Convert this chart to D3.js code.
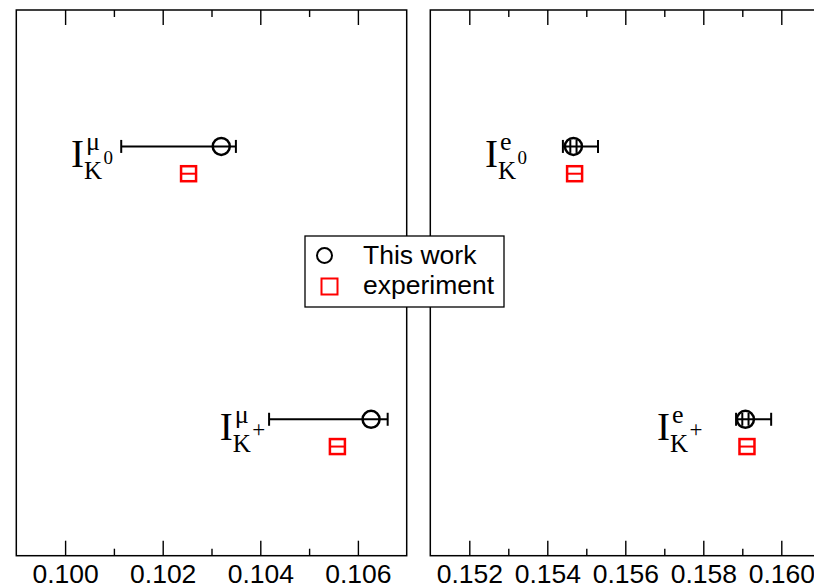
<html>
<head>
<meta charset="utf-8">
<script src="https://cdn.jsdelivr.net/npm/d3@7"></script>
<style>
  body { margin: 0; background: #fff; }
  svg { display: block; }
  .tick text { font-family: "Liberation Sans", Arial, sans-serif; font-size: 26.5px; fill: #000; }
  .serif { font-family: "Liberation Serif", "Times New Roman", serif; fill: #000; }
</style>
</head>
<body>
<svg id="chart" width="814" height="588"></svg>
<script>
// slots on the (hidden) vertical axis
const mesonSup = ["0", "+"];
const mesonSupSize = [19, 23];
const yWork = [3, 1];
const yExp = [2.8, 0.8];

// muon channel (left panel)
const muWork   = [0.10320, 0.10627];
const muLo     = [0.10115, 0.10418];
const muHi     = [0.10350, 0.10661];
const muExp    = [0.10253, 0.10558];
const muExpErr = [0.00014, 0.00014];
const muLabelX = [0.10012, 0.10317];
const muTicks  = [0.100, 0.102, 0.104, 0.106];
const muMinor  = [0.101, 0.103, 0.105];

// electron channel (right panel)
const eWork    = [0.15467, 0.15908];
const eLo      = [0.15440, 0.15884];
const eHi      = [0.15530, 0.15974];
const eStatLo  = [0.15459, 0.15900];
const eStatHi  = [0.15475, 0.15916];
const eExp     = [0.15470, 0.15912];
const eExpErr  = [0.00018, 0.00018];
const eLabelX  = [0.15240, 0.15681];
const eTicks   = [0.152, 0.154, 0.156, 0.158, 0.160];
const eMinor   = [0.153, 0.155, 0.157, 0.159];

const legendNames = ["This work", "experiment"];

const svg = d3.select("#chart");
const frameTop = 10, frameBottom = 555.7;
const y = d3.scaleLinear().domain([0, 4]).range([frameBottom, frameTop]);

function panel(cfg) {
  const x = d3.scaleLinear().domain(cfg.domain).range(cfg.range);
  const g = svg.append("g");

  // bottom axis: major with labels, minor without
  g.append("g").attr("transform", "translate(0," + frameBottom + ")")
    .call(d3.axisBottom(x).tickValues(cfg.ticks).tickSize(-15).tickPadding(8).tickFormat(d3.format(".3f")))
    .call(a => a.select(".domain").remove());
  g.append("g").attr("transform", "translate(0," + frameBottom + ")")
    .call(d3.axisBottom(x).tickValues(cfg.minor).tickSize(-7).tickFormat(""))
    .call(a => a.select(".domain").remove());
  // top mirrored ticks
  g.append("g").attr("transform", "translate(0," + frameTop + ")")
    .call(d3.axisTop(x).tickValues(cfg.ticks).tickSize(-15).tickFormat(""))
    .call(a => a.select(".domain").remove());
  g.append("g").attr("transform", "translate(0," + frameTop + ")")
    .call(d3.axisTop(x).tickValues(cfg.minor).tickSize(-7).tickFormat(""))
    .call(a => a.select(".domain").remove());
  g.selectAll(".tick line").attr("stroke", "#000").attr("stroke-width", 1.4);

  g.append("rect")
    .attr("x", cfg.range[0]).attr("y", frameTop)
    .attr("width", cfg.range[1] - cfg.range[0]).attr("height", frameBottom - frameTop)
    .attr("fill", "none").attr("stroke", "#000").attr("stroke-width", 1.5);

  const idx = d3.range(cfg.work.length);

  // experiment squares with their error bars
  idx.forEach(i => {
    const cx = x(cfg.exp[i]), cy = y(yExp[i]);
    g.append("line")
      .attr("x1", x(cfg.exp[i] - cfg.expErr[i])).attr("x2", x(cfg.exp[i] + cfg.expErr[i]))
      .attr("y1", cy).attr("y2", cy)
      .attr("stroke", "#ff0000").attr("stroke-width", 2);
    g.append("rect")
      .attr("x", cx - 7.5).attr("y", cy - 7.5).attr("width", 15).attr("height", 15)
      .attr("fill", "none").attr("stroke", "#ff0000").attr("stroke-width", 2.5);
  });

  // this work: error bars and circles
  idx.forEach(i => {
    const cy = y(yWork[i]);
    g.append("line")
      .attr("x1", x(cfg.lo[i])).attr("x2", x(cfg.hi[i]))
      .attr("y1", cy).attr("y2", cy)
      .attr("stroke", "#000").attr("stroke-width", 2);
    [cfg.lo[i], cfg.hi[i]].concat(cfg.statLo ? [cfg.statLo[i], cfg.statHi[i]] : []).forEach(v => {
      g.append("line")
        .attr("x1", x(v)).attr("x2", x(v))
        .attr("y1", cy - 6.5).attr("y2", cy + 6.5)
        .attr("stroke", "#000").attr("stroke-width", 2);
    });
    g.append("circle")
      .attr("cx", x(cfg.work[i])).attr("cy", cy).attr("r", 8.5)
      .attr("fill", "none").attr("stroke", "#000").attr("stroke-width", 2.5);

    // label I^{sup}_{K^{0/+}}
    const lx = x(cfg.labelX[i]), b = cy + 20.5;
    g.append("text").attr("class", "serif").attr("x", lx).attr("y", b)
      .style("font-size", "39px").text("I");
    g.append("text").attr("class", "serif").attr("x", lx + 15).attr("y", b - 17)
      .style("font-size", "26px").text(cfg.sup);
    g.append("text").attr("class", "serif").attr("x", lx + 13).attr("y", b + 12)
      .style("font-size", "25px").text("K");
    g.append("text").attr("class", "serif").attr("x", lx + 32.5).attr("y", b - 3)
      .style("font-size", mesonSupSize[i] + "px").text(mesonSup[i]);
  });
}

panel({ domain: [0.099, 0.107], range: [16.3, 406.7], ticks: muTicks, minor: muMinor,
  work: muWork, lo: muLo, hi: muHi, exp: muExp, expErr: muExpErr, labelX: muLabelX, sup: "\u03bc" });
panel({ domain: [0.151, 0.161], range: [430.3, 820.3], ticks: eTicks, minor: eMinor,
  work: eWork, lo: eLo, hi: eHi, statLo: eStatLo, statHi: eStatHi,
  exp: eExp, expErr: eExpErr, labelX: eLabelX, sup: "e" });

// legend
const lg = svg.append("g").attr("transform", "translate(305,236)");
lg.append("rect").attr("width", 199).attr("height", 71)
  .attr("fill", "#fff").attr("stroke", "#000").attr("stroke-width", 1.3);
lg.append("circle").attr("cx", 19.5).attr("cy", 19.5).attr("r", 7.5)
  .attr("fill", "none").attr("stroke", "#000").attr("stroke-width", 2);
lg.append("rect").attr("x", 16.5).attr("y", 42.5).attr("width", 16).attr("height", 16)
  .attr("fill", "none").attr("stroke", "#ff0000").attr("stroke-width", 2);
lg.selectAll("text.leg").data(legendNames).join("text")
  .attr("class", "leg")
  .attr("x", 58).attr("y", (d, i) => 28 + i * 30)
  .style("font-family", "'Liberation Sans', Arial, sans-serif")
  .style("font-size", "26.5px")
  .text(d => d);
</script>
</body>
</html>
